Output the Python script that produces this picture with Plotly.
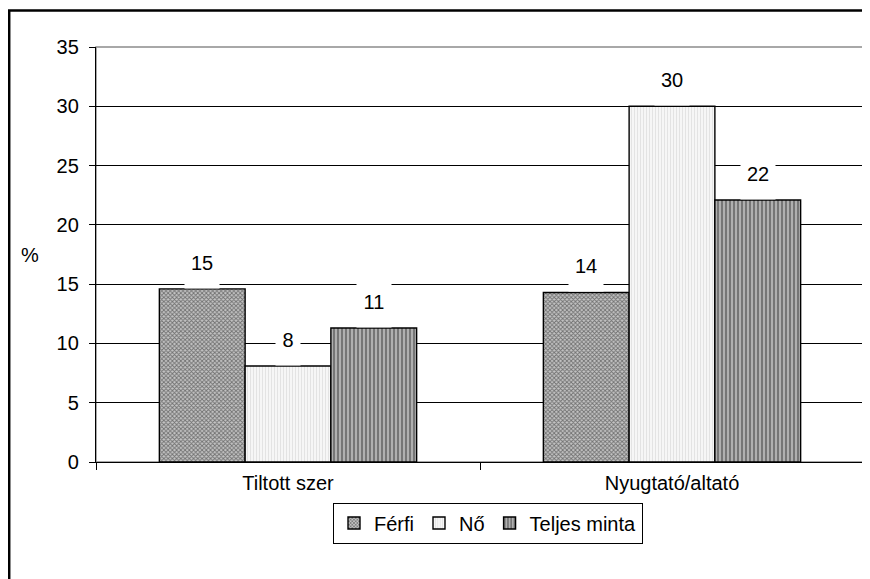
import plotly.graph_objects as go

categories = ["Tiltott szer", "Nyugtató/altató"]
series_names = ["Férfi", "Nő", "Teljes minta"]
ferfi = [14.6, 14.3]
no = [8.1, 30.0]
teljes = [11.3, 22.1]
labels = [["15", "14"], ["8", "30"], ["11", "22"]]
y_ticks = [0, 5, 10, 15, 20, 25, 30, 35]

values = [ferfi, no, teljes]
patterns = [
    dict(shape="x", fgcolor="#1a1a1a", bgcolor="#c4c4c4", size=3, solidity=0.5),
    dict(shape="|", fgcolor="#cfcfcf", bgcolor="#f6f6f6", size=3, solidity=0.35),
    dict(shape="|", fgcolor="#3c3c3c", bgcolor="#b0b0b0", size=4, solidity=0.5),
]

FONT = "Liberation Sans, Arial, sans-serif"
FS = 20
W, H = 870, 579
ML, MR, MT, MB = 88, 14, 39, 125
bargap = 0.33
plot_w = W - ML - MR
plot_h = H - MT - MB

fig = go.Figure()
for name, vals, pat in zip(series_names, values, patterns):
    fig.add_trace(go.Bar(
        x=categories, y=vals, name=name,
        marker=dict(color=pat["bgcolor"], pattern=pat,
                    line=dict(color="#000000", width=1.4)),
    ))

bar_px = plot_w / len(categories) * (1 - bargap) / len(series_names)
annotations = []
for si, (vals, labs) in enumerate(zip(values, labels)):
    for ci, (v, t) in enumerate(zip(vals, labs)):
        annotations.append(dict(
            x=categories[ci], y=v, xref="x", yref="y",
            text=t, showarrow=False, yanchor="bottom",
            xshift=(si - 1) * bar_px, yshift=0,
            width=len(t) * 10 + 14, height=50, valign="middle",
            bgcolor="#ffffff", borderpad=0,
            font=dict(family=FONT, size=FS, color="#000000"),
        ))
annotations.append(dict(
    x=(22 - ML) / plot_w, y=0.5, xref="paper", yref="paper", text="%",
    showarrow=False, xanchor="center", yanchor="middle",
    font=dict(family=FONT, size=FS, color="#000000"),
))

shapes = [
    dict(type="rect", xref="paper", yref="paper", x0=0, x1=1, y0=0, y1=1,
         line=dict(color="#8c8c8c", width=1.5), layer="below"),
    dict(type="rect", xref="paper", yref="paper",
         x0=(1.2 - ML) / plot_w, x1=(900 - ML) / plot_w,
         y0=(H - MB - 620) / plot_h, y1=(H - MB - 2.5) / plot_h,
         line=dict(color="#000000", width=2.5)),
]

fig.update_layout(
    width=W, height=H,
    margin=dict(l=ML, r=MR, t=MT, b=MB),
    paper_bgcolor="#ffffff", plot_bgcolor="#ffffff",
    barmode="group", bargap=bargap, bargroupgap=0,
    font=dict(family=FONT, size=FS, color="#000000"),
    xaxis=dict(
        showline=True, linecolor="#000000", linewidth=1.3,
        ticks="outside", tickson="boundaries", ticklen=7, tickcolor="#000000",
        tickfont=dict(family=FONT, size=FS), showgrid=False,
        ticklabelstandoff=3,
    ),
    yaxis=dict(
        range=[0, 35], tickvals=y_ticks, ticktext=[str(t) for t in y_ticks],
        showline=True, linecolor="#000000", linewidth=1.3,
        ticks="outside", ticklen=6, tickcolor="#000000",
        showgrid=True, gridcolor="#000000", gridwidth=1,
        zeroline=False, tickfont=dict(family=FONT, size=FS),
        ticklabelstandoff=6,
    ),
    legend=dict(
        orientation="h", x=(480 - ML) / plot_w, y=-0.147,
        xanchor="center", yanchor="middle",
        bordercolor="#000000", borderwidth=1, bgcolor="#ffffff",
        font=dict(family=FONT, size=FS), itemwidth=30, tracegroupgap=0,
    ),
    annotations=annotations,
    shapes=shapes,
)

fig.write_html("out.html")
